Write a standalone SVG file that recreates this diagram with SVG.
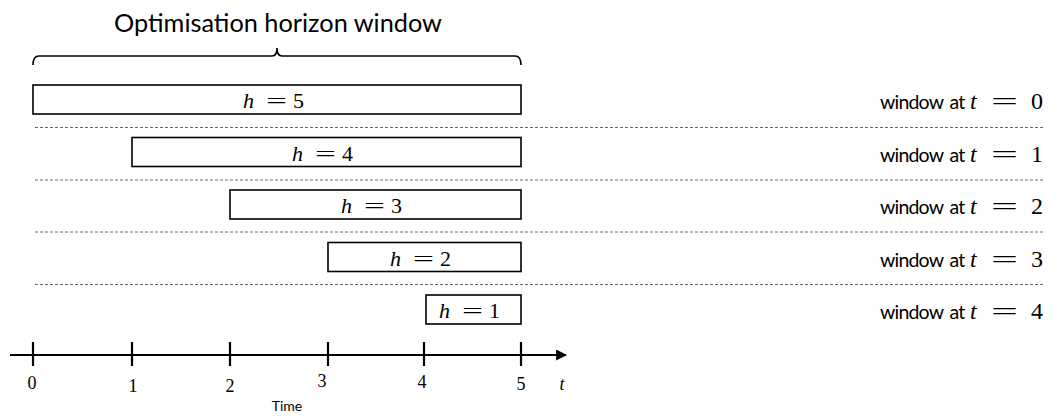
<svg xmlns="http://www.w3.org/2000/svg" width="1055" height="418" viewBox="0 0 1055 418">
  <style>
    .title { font-family: Lato, "Liberation Sans", sans-serif; font-size: 25.3px; fill: #000; }
    .win { font-family: Lato, "Liberation Sans", sans-serif; font-size: 19.5px; letter-spacing: -0.8px; word-spacing: 2.5px; fill: #000; }
    .math { font-family: "Liberation Serif", "DejaVu Serif", serif; font-size: 22px; fill: #000; }
    .wmath { font-family: "Liberation Serif", "DejaVu Serif", serif; font-size: 24px; fill: #000; }
    .it { font-style: italic; }
    .tick-lbl { font-family: "Liberation Serif", "DejaVu Serif", serif; font-size: 18px; fill: #000; text-anchor: middle; }
    .small { font-family: Lato, "Liberation Sans", sans-serif; font-size: 14px; fill: #000; text-anchor: middle; }
    .box { fill: #fff; stroke: #000; stroke-width: 1.6; }
    .sep { stroke: #666; stroke-width: 1; stroke-dasharray: 3 2; fill: none; }
    .axis { stroke: #000; stroke-width: 2.2; fill: none; }
    .brace { stroke: #000; stroke-width: 1.6; fill: none; }
  </style>
  <defs>
    <marker id="arrow" viewBox="0 0 10 10" refX="9" refY="5" markerWidth="5" markerHeight="6.5" orient="auto" markerUnits="strokeWidth">
      <path d="M0,0 L10,5 L0,10 Z" fill="#000"/>
    </marker>
  </defs>

  <!-- heading and brace over the full horizon -->
  <g id="horizon-label">
    <text class="title" x="278" y="32" text-anchor="middle">Optimisation horizon window</text>
    <path class="brace" d="M33,65 Q33,56 39,56 L272,56 Q277,56 277,48 Q277,56 282,56 L515,56 Q521,56 521,65"/>
  </g>

  <!-- separators between window rows -->
  <g id="separators">
    <line class="sep" x1="35" y1="127.5" x2="1043" y2="127.5"/>
    <line class="sep" x1="35" y1="180" x2="1043" y2="180"/>
    <line class="sep" x1="35" y1="232" x2="1043" y2="232"/>
    <line class="sep" x1="35" y1="284.5" x2="1043" y2="284.5"/>
  </g>

  <!-- horizon windows, one per time step -->
  <g id="window-t0">
    <rect class="box" x="33" y="85" width="488" height="29"/>
    <text class="math it" x="243" y="108">h</text>
    <text class="math" x="266" y="108" textLength="21" lengthAdjust="spacingAndGlyphs">=</text>
    <text class="math" x="293" y="108">5</text>
    <text class="win" x="880" y="109">window at</text>
    <text class="wmath it" x="970" y="109">t</text>
    <text class="wmath" x="991" y="109" textLength="27" lengthAdjust="spacingAndGlyphs">=</text>
    <text class="wmath" x="1031" y="109">0</text>
  </g>
  <g id="window-t1">
    <rect class="box" x="132" y="137.5" width="389" height="29"/>
    <text class="math it" x="292" y="160.5">h</text>
    <text class="math" x="315" y="160.5" textLength="21" lengthAdjust="spacingAndGlyphs">=</text>
    <text class="math" x="342" y="160.5">4</text>
    <text class="win" x="880" y="161.5">window at</text>
    <text class="wmath it" x="970" y="161.5">t</text>
    <text class="wmath" x="991" y="161.5" textLength="27" lengthAdjust="spacingAndGlyphs">=</text>
    <text class="wmath" x="1031" y="161.5">1</text>
  </g>
  <g id="window-t2">
    <rect class="box" x="230" y="190" width="291" height="29"/>
    <text class="math it" x="341" y="213">h</text>
    <text class="math" x="364" y="213" textLength="21" lengthAdjust="spacingAndGlyphs">=</text>
    <text class="math" x="391" y="213">3</text>
    <text class="win" x="880" y="214">window at</text>
    <text class="wmath it" x="970" y="214">t</text>
    <text class="wmath" x="991" y="214" textLength="27" lengthAdjust="spacingAndGlyphs">=</text>
    <text class="wmath" x="1031" y="214">2</text>
  </g>
  <g id="window-t3">
    <rect class="box" x="328" y="242.5" width="193" height="29"/>
    <text class="math it" x="390" y="265.5">h</text>
    <text class="math" x="413" y="265.5" textLength="21" lengthAdjust="spacingAndGlyphs">=</text>
    <text class="math" x="440" y="265.5">2</text>
    <text class="win" x="880" y="266.5">window at</text>
    <text class="wmath it" x="970" y="266.5">t</text>
    <text class="wmath" x="991" y="266.5" textLength="27" lengthAdjust="spacingAndGlyphs">=</text>
    <text class="wmath" x="1031" y="266.5">3</text>
  </g>
  <g id="window-t4">
    <rect class="box" x="426" y="295" width="95" height="29"/>
    <text class="math it" x="439" y="318">h</text>
    <text class="math" x="462" y="318" textLength="21" lengthAdjust="spacingAndGlyphs">=</text>
    <text class="math" x="489" y="318">1</text>
    <text class="win" x="880" y="319">window at</text>
    <text class="wmath it" x="970" y="319">t</text>
    <text class="wmath" x="991" y="319" textLength="27" lengthAdjust="spacingAndGlyphs">=</text>
    <text class="wmath" x="1031" y="319">4</text>
  </g>

  <!-- time axis -->
  <g id="time-axis">
    <line class="axis" x1="10" y1="355" x2="566" y2="355" marker-end="url(#arrow)"/>
    <line class="axis" x1="33" y1="342" x2="33" y2="366"/>
    <line class="axis" x1="132" y1="342" x2="132" y2="366"/>
    <line class="axis" x1="230" y1="342" x2="230" y2="366"/>
    <line class="axis" x1="328" y1="342" x2="328" y2="366"/>
    <line class="axis" x1="424" y1="342" x2="424" y2="366"/>
    <line class="axis" x1="521" y1="342" x2="521" y2="366"/>
    <text class="tick-lbl" x="32" y="389">0</text>
    <text class="tick-lbl" x="133" y="392">1</text>
    <text class="tick-lbl" x="230" y="392">2</text>
    <text class="tick-lbl" x="322" y="387">3</text>
    <text class="tick-lbl" x="422" y="388">4</text>
    <text class="tick-lbl" x="521" y="390">5</text>
    <text class="tick-lbl it" x="562" y="390">t</text>
    <text class="small" x="287" y="411">Time</text>
  </g>
</svg>
